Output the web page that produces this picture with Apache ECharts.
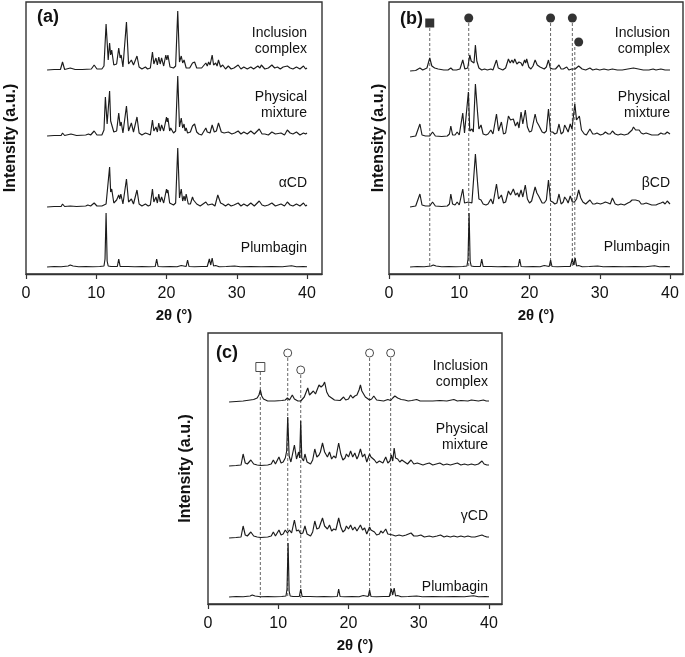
<!DOCTYPE html>
<html><head><meta charset="utf-8">
<script src="https://cdn.jsdelivr.net/npm/echarts@6/dist/echarts.min.js"></script>
<style>html,body{margin:0;padding:0;background:#fff}#c{width:685px;height:657px}</style>
</head><body><div id="c"></div>
<script>
// ---- data: [2θ, intensity] flat pairs, intensity in a.u. above each trace's baseline ----
const xTicks = [0, 10, 20, 30, 40];
const sampleNamesA = ['Inclusion\ncomplex', 'Physical\nmixture', 'αCD', 'Plumbagin'];
const sampleNamesB = ['Inclusion\ncomplex', 'Physical\nmixture', 'βCD', 'Plumbagin'];
const sampleNamesC = ['Inclusion\ncomplex', 'Physical\nmixture', 'γCD', 'Plumbagin'];
const panelTags = ['(a)', '(b)', '(c)'];

const plumbagin = [3,0, 4,0.5, 5,0.3, 6.0,1, 6.3,2, 6.7,1, 7.5,0.3, 8.5,0.5, 9.5,0.3, 10.5,0.5, 11.1,1, 11.25,8, 11.4,54, 11.55,6, 11.7,1, 12.1,0.5, 12.3,2, 12.5,0.5, 13.0,0.5, 13.2,8, 13.4,0.5, 14.5,0.5, 15.5,0.3, 16.5,0.5, 17.5,0.3, 18.4,0.5, 18.6,8, 18.8,0.5, 19.5,0.3, 20.5,0.5, 21.5,0.3, 22.1,1.5, 22.3,0.3, 22.8,0.5, 23.0,7, 23.2,0.5, 24.0,0.3, 25.0,0.5, 25.8,0.5, 26.1,8, 26.3,2, 26.5,9, 26.7,1, 27.0,1.5, 27.5,0.3, 28.5,0.5, 29.7,1, 30.5,0.3, 32,0.5, 33.5,0.3, 35,0.5, 36.5,0.3, 37.8,1.2, 38.5,0.3, 39.5,0.5, 40,0.3];

const complexA = [3,0, 4,0.5, 4.9,0.5, 5.2,8, 5.5,0.5, 6.3,2, 7,0.5, 8,0.5, 9.3,1, 9.7,5, 10.1,1, 10.8,1, 11.1,4, 11.4,46, 11.7,10, 11.9,27, 12.05,15, 12.2,20, 12.5,5, 12.9,6, 13.2,22, 13.4,12, 13.55,15, 13.8,3, 14.05,5, 14.3,48, 14.6,6, 14.8,4, 15.0,10, 15.3,5, 15.8,14, 16.1,3, 16.5,1, 17.0,3, 17.3,1, 17.7,2, 18.0,18, 18.2,6, 18.5,12, 18.7,5, 18.9,13, 19.1,6, 19.3,12, 19.6,4, 19.9,15, 20.05,10, 20.2,15, 20.5,3, 20.7,5, 21.0,2, 21.3,4, 21.6,59, 21.85,8, 22.1,14, 22.3,7, 22.5,10, 22.8,2, 23.0,4, 23.3,2, 23.7,7, 23.85,5, 24.0,8, 24.3,2, 25.0,2, 25.6,7, 25.8,4, 26.0,8, 26.2,5, 26.5,15, 26.7,5, 27.0,7, 27.2,4, 27.4,10, 27.7,3, 28.0,5, 28.4,1, 28.8,4, 29.2,1, 29.6,2, 30.2,5, 30.6,1, 31.0,3, 31.5,1, 32.0,3, 32.4,1, 33.0,4, 33.3,2, 33.5,5, 34.0,1, 34.5,2, 35.0,5, 35.4,2, 35.8,3, 36.2,1, 36.6,3, 37.2,4, 37.6,2, 38.0,1, 38.5,3, 39.0,1, 39.5,4, 39.8,1, 40,2];
const mixtureA = [3,0, 4,0.5, 5.0,0.5, 5.2,3, 5.5,0.5, 6.4,2, 7.2,0.5, 8.5,1, 8.9,2, 9.2,1, 9.7,5, 10.1,1, 10.8,1, 11.1,6, 11.3,39, 11.55,12, 11.9,45, 12.05,15, 12.2,16, 12.5,4, 12.9,5, 13.2,23, 13.4,10, 13.55,14, 13.8,3, 14.05,5, 14.3,30, 14.6,5, 14.8,4, 15.0,13, 15.3,4, 15.8,19, 16.1,3, 16.5,1, 17.0,3, 17.2,1, 17.4,2, 17.7,1, 18.0,16, 18.2,5, 18.5,9, 18.7,4, 18.9,13, 19.1,5, 19.3,11, 19.6,5, 20.0,19, 20.1,14, 20.2,18, 20.45,5, 20.6,8, 21.0,3, 21.3,5, 21.6,60, 21.85,9, 22.1,18, 22.3,8, 22.5,12, 22.65,5, 22.8,8, 23.0,3, 23.4,4, 23.7,10, 23.85,8, 24.0,12, 24.3,4, 24.6,2, 25.0,1, 25.6,8, 25.8,4, 26.0,6, 26.2,3, 26.5,11, 26.8,4, 27.1,5, 27.4,13, 27.8,4, 28.2,3, 28.8,4, 29.3,2, 29.7,3, 30.2,5, 30.6,2, 31.0,4, 31.5,2, 32.0,5, 32.5,2, 33.2,7, 33.6,2, 34.0,2, 34.5,1, 35.0,4, 35.5,2, 36.3,3, 36.8,1, 37.2,6, 37.6,3, 38.0,2, 38.5,4, 39.0,1, 39.5,3, 39.8,2, 40,3];
const alphaCD = [3,0, 4,0.5, 5.0,0.5, 5.2,3, 5.5,0.5, 6.3,1, 7.2,0.5, 8.5,1, 8.8,2, 9.2,1, 9.7,4, 10.1,1, 10.8,1, 11.4,3, 11.6,4, 11.9,40, 12.05,15, 12.2,18, 12.5,4, 12.9,7, 13.05,5, 13.2,12, 13.35,8, 13.5,13, 13.8,3, 14.05,5, 14.3,28, 14.6,5, 14.8,4, 15.0,8, 15.3,3, 15.8,17, 16.1,3, 16.5,1, 17.0,3, 17.4,1, 17.7,2, 18.0,18, 18.2,5, 18.5,10, 18.7,4, 18.9,13, 19.1,5, 19.3,10, 19.6,4, 20.0,18, 20.1,14, 20.2,17, 20.45,4, 20.7,6, 21.0,2, 21.3,4, 21.6,59, 21.85,9, 22.1,18, 22.3,6, 22.5,11, 22.65,6, 22.8,13, 23.1,3, 23.4,3, 23.7,10, 23.85,7, 24.0,8, 24.3,3, 24.8,1, 25.6,5, 25.9,2, 26.5,3, 26.9,1, 27.3,12, 27.7,4, 28.0,3, 28.4,1, 28.8,3, 29.2,1, 29.6,2, 30.2,4, 30.6,1, 31.0,3, 31.5,1, 32.0,4, 32.5,1, 33.2,6, 33.6,2, 34.0,1, 34.5,2, 35.0,4, 35.5,1, 36.3,3, 36.8,1, 37.2,5, 37.6,2, 38.0,1, 38.5,3, 39.0,1, 39.5,4, 39.8,1, 40,2];

const complexB = [3,0, 3.8,0.5, 4.4,3, 4.8,1, 5.4,3, 5.8,13, 6.1,5, 6.5,3, 7.0,2, 7.8,1, 8.4,1, 8.8,3, 9.1,1, 9.6,1, 10.1,2, 10.5,11, 10.8,2, 11.2,3, 11.5,16, 11.7,10, 11.9,12, 12.1,8, 12.3,26, 12.5,10, 12.8,3, 13.2,1, 13.6,2, 14.0,1, 14.5,2, 14.8,1, 15.3,11, 15.55,3, 15.8,5, 16.2,1, 16.6,3, 17.0,12, 17.25,8, 17.5,11, 17.7,8, 17.9,12, 18.2,7, 18.5,9, 18.8,8, 19.0,5, 19.3,11, 19.45,8, 19.6,12, 19.9,4, 20.2,2, 20.5,5, 20.8,11, 21.1,6, 21.5,4, 22.1,2, 22.4,4, 22.7,11, 22.95,3, 23.3,2, 23.7,2, 24.2,6, 24.5,2, 24.8,2, 25.3,4, 25.6,1, 26.0,2, 26.5,2, 27.0,5, 27.5,2, 28.0,1, 28.6,3, 29.0,1, 29.5,2, 30.0,1, 30.6,2, 31.2,1, 31.8,2, 32.5,1, 33.2,1, 34.0,2, 34.8,3, 35.5,2, 36.2,1, 37.0,1, 37.6,2, 38.0,1, 38.7,2, 39.3,1, 40,1];
const mixtureB = [3,0, 3.8,1, 4.4,13, 4.7,2, 5.2,1, 5.8,1, 6.2,5, 6.6,1, 7.5,0.5, 8.3,1, 8.6,3, 8.8,11, 9.05,2, 9.4,2, 9.7,5, 10.0,2, 10.25,4, 10.5,24, 10.75,4, 11.0,3, 11.3,45, 11.5,6, 11.8,8, 12.0,5, 12.3,53, 12.6,25, 12.8,8, 13.1,12, 13.4,3, 13.8,2, 14.1,3, 14.5,7, 14.8,3, 15.3,23, 15.6,6, 16.0,15, 16.3,3, 16.6,4, 17.0,21, 17.3,17, 17.7,18, 18.0,11, 18.3,15, 18.5,9, 18.8,25, 19.05,13, 19.4,27, 19.7,10, 20.0,5, 20.3,6, 20.8,23, 21.05,15, 21.3,12, 21.5,12, 21.8,5, 22.1,4, 22.4,6, 22.7,28, 23.0,5, 23.3,5, 23.6,3, 23.9,4, 24.2,13, 24.5,3, 24.8,5, 25.0,12, 25.3,8, 25.5,5, 25.8,13, 26.05,8, 26.2,6, 26.45,33, 26.7,17, 26.9,16, 27.1,21, 27.4,7, 27.8,3, 28.1,2, 28.6,8, 29.0,3, 29.3,3, 29.6,4, 30.1,2, 30.5,3, 30.8,5, 31.2,3, 31.5,3, 31.8,6, 32.2,3, 32.6,2, 33.0,3, 33.5,2, 34.0,3, 34.3,5, 34.6,7, 34.8,10, 35.1,7, 35.3,6, 35.6,7, 35.9,4, 36.2,3, 36.6,4, 37.0,3, 37.4,2, 37.6,4, 38.0,2, 38.3,2, 38.7,4, 39.0,3, 39.3,3, 39.6,5, 39.8,4, 40,3];
const betaCD = [3,0, 3.8,1, 4.4,13, 4.7,2, 5.2,1, 5.8,1, 6.2,5, 6.6,1, 7.5,0.5, 8.3,1, 8.6,3, 8.8,13, 9.05,3, 9.4,2, 9.7,5, 10.0,2, 10.25,4, 10.5,18, 10.75,4, 11.0,3, 11.3,5, 11.5,3, 11.8,4, 12.0,6, 12.3,53, 12.6,25, 12.8,8, 13.1,7, 13.4,3, 13.8,2, 14.1,3, 14.5,8, 14.8,3, 15.3,23, 15.6,8, 16.0,12, 16.3,4, 16.6,5, 17.0,16, 17.3,12, 17.7,18, 18.0,12, 18.3,14, 18.5,10, 18.8,17, 19.05,10, 19.4,22, 19.7,8, 20.0,4, 20.3,6, 20.8,20, 21.05,14, 21.3,11, 21.5,10, 21.8,4, 22.1,4, 22.4,7, 22.7,27, 23.0,6, 23.3,5, 23.6,3, 23.9,4, 24.2,13, 24.5,3, 24.8,5, 25.0,10, 25.3,7, 25.5,4, 25.8,11, 26.1,5, 26.4,5, 26.7,8, 27.0,17, 27.3,9, 27.6,5, 28.0,3, 28.6,7, 29.0,3, 29.3,3, 29.6,4, 30.1,3, 30.5,4, 30.8,5, 31.2,4, 31.5,3, 31.8,9, 32.2,3, 32.6,2, 33.0,3, 33.5,2, 34.0,4, 34.3,5, 34.6,7, 34.8,9, 35.1,7, 35.3,5, 35.6,6, 35.9,3, 36.2,3, 36.6,4, 37.0,3, 37.4,2, 37.6,4, 38.0,2, 38.3,3, 38.7,4, 39.0,5, 39.3,3, 39.6,6, 39.8,4, 40,3];

const complexC = [3,0, 4,0.5, 5.0,1, 6.0,2, 6.5,2.5, 7.0,4, 7.25,7, 7.45,12, 7.65,6, 7.9,3, 8.5,1, 9.5,1, 10.5,1.5, 11.0,2, 11.3,4, 11.6,2, 12.0,7, 12.3,3, 12.8,1, 13.2,1, 13.7,5, 14.2,14, 14.45,7, 14.7,7, 15.0,11, 15.3,8, 15.5,10, 15.8,17, 16.1,15, 16.4,17, 16.6,20, 16.9,10, 17.2,6, 17.6,4, 18.0,2, 18.8,1.5, 19.3,5, 19.6,2, 20.0,3, 20.3,7, 20.6,4, 20.9,6, 21.2,7, 21.5,12, 21.7,17, 21.9,11, 22.1,12, 22.4,5, 23.0,2, 23.3,3, 23.6,6, 24.0,2, 24.5,1.5, 25.0,1, 25.6,2.5, 26.0,1.5, 26.3,4, 26.6,6, 27.0,4, 27.5,2.5, 28.0,2, 28.5,1, 29.0,1.5, 29.7,2.5, 30.2,1, 31.0,1, 32.0,1, 33.0,1.5, 34.0,1, 35.0,2.5, 35.5,1, 36.0,1.5, 37.0,1, 37.5,2, 38.5,1, 39.2,2, 39.6,1, 40,1];
const mixtureC = [3,0, 4,0.5, 4.7,1, 5.0,12, 5.3,3, 5.6,2, 6.1,6, 6.5,2, 7.0,1, 7.5,0.5, 8.5,1, 9.0,2, 9.3,6, 9.6,2, 10.1,9, 10.4,3, 10.7,4, 11.0,8, 11.2,15, 11.35,49, 11.55,10, 11.8,4, 12.0,6, 12.3,21, 12.6,7, 12.9,14, 13.05,8, 13.2,45, 13.35,8, 13.6,5, 13.8,12, 14.1,4, 14.6,2, 14.9,6, 15.2,17, 15.5,9, 15.8,11, 16.0,14, 16.3,23, 16.6,14, 17.0,9, 17.3,14, 17.6,7, 17.9,10, 18.2,8, 18.6,23, 18.9,12, 19.2,6, 19.5,8, 19.7,12, 20.0,9, 20.3,15, 20.6,9, 20.9,13, 21.2,7, 21.4,10, 21.7,17, 22.0,9, 22.3,12, 22.6,4, 23.0,12, 23.2,9, 23.4,11, 23.7,6, 24.0,3, 24.4,5, 24.6,6, 24.9,3, 25.3,9, 25.6,3, 25.9,5, 26.1,11, 26.3,5, 26.5,18, 26.7,8, 27.0,7, 27.3,4, 27.6,6, 28.0,4, 28.4,2, 28.9,6, 29.3,2, 29.8,3, 30.2,2, 30.6,1, 31.0,2, 31.5,3, 32.0,1, 32.5,2, 33.0,3, 33.5,1, 34.0,2, 34.5,1, 35.0,2, 35.5,3, 36.0,1, 36.5,2, 37.0,1, 37.5,2, 38.0,1, 38.5,2, 39.0,5, 39.3,2, 39.7,1, 40,1];
const gammaCD = [3,0, 4,0.5, 4.7,1, 5.0,12, 5.3,3, 5.6,2, 6.1,6, 6.5,2, 7.0,1, 7.5,0.5, 8.5,1, 9.0,2, 9.3,6, 9.6,2, 10.1,8, 10.4,3, 10.7,4, 11.0,8, 11.3,5, 11.6,8, 11.9,5, 12.3,18, 12.6,7, 12.9,8, 13.2,4, 13.5,5, 13.8,12, 14.1,4, 14.6,2, 14.9,6, 15.2,17, 15.5,9, 15.8,10, 16.0,12, 16.3,20, 16.6,12, 17.0,9, 17.3,13, 17.6,7, 17.9,9, 18.2,8, 18.6,20, 18.9,11, 19.2,6, 19.5,8, 19.7,12, 20.0,9, 20.3,13, 20.6,8, 20.9,11, 21.2,7, 21.4,9, 21.7,13, 22.0,8, 22.3,10, 22.6,4, 23.0,11, 23.2,8, 23.4,10, 23.7,6, 24.0,3, 24.4,4, 24.6,7, 24.9,5, 25.3,9, 25.6,4, 25.8,2, 26.3,3, 26.7,2, 27.2,3, 27.7,2, 28.2,3, 28.9,5, 29.3,2, 29.8,2, 30.3,3, 30.8,1, 31.5,2, 32.0,1, 32.6,2, 33.1,3, 33.6,1, 34.0,2, 34.5,1, 35.0,2, 35.5,1, 36.0,2, 36.5,1, 37.0,2, 37.5,1, 38.0,1, 38.5,2, 39.0,3, 39.3,2, 39.7,1, 40,1];

// reflection markers (2θ positions)
const markB_square = [5.8];
const markB_circle = [11.35, 23.0, 26.1];
const markB_circleLow = [27.0];
const lineB_low = [26.45];
const markC_square = [7.45];
const markC_circle = [11.35, 23.0, 26.0];
const markC_circleLow = [13.2];

// ---- layout ----
const FONT = '"Liberation Sans", Arial, sans-serif';
const INK = '#111';
const panels = [
  {left: 26,  top: 2,   width: 296, height: 272, max: 296/7.025, names: sampleNamesA, traces: [complexA, mixtureA, alphaCD, plumbagin], base: [204,138,67,7], nameGap: 7, labelX: 307, labelY: [41,105,183,248], tag: [37, 17]},
  {left: 389, top: 2,   width: 294, height: 272, max: 294/7.025, names: sampleNamesB, traces: [complexB, mixtureB, betaCD, plumbagin], base: [203,137,67,7], nameGap: 2, labelX: 670, labelY: [41,105,183,247], tag: [400, 19]},
  {left: 208, top: 333, width: 294, height: 271, max: 294/7.025, names: sampleNamesC, traces: [complexC, mixtureC, gammaCD, plumbagin], base: [202,138,66,7], nameGap: 14, labelX: 488, labelY: [374,437,516,587], tag: [216, 353]}
];
const pairs = (flat, off) => { const out = []; for (let i = 0; i < flat.length; i += 2) out.push([flat[i], flat[i+1] + off]); return out; };

const grid = [], xAxis = [], yAxis = [], series = [], graphic = [];
panels.forEach((p, i) => {
  grid.push({left: p.left, top: p.top, width: p.width, height: p.height, show: true, borderColor: '#333', borderWidth: 1.4, containLabel: false});
  xAxis.push({type: 'value', gridIndex: i, min: 0, max: p.max, interval: 10,
    axisLine: {show: true, onZero: false, lineStyle: {color: '#333', width: 1.4}},
    axisTick: {show: true, inside: false, length: 5, customValues: xTicks, lineStyle: {color: '#333', width: 1.2}},
    axisLabel: {customValues: xTicks, margin: 12, fontSize: 16, color: INK, fontFamily: FONT},
    splitLine: {show: false},
    name: '2θ (°)', nameLocation: 'middle', nameGap: 34,
    nameTextStyle: {fontSize: 15, fontWeight: 'bold', color: INK, fontFamily: FONT}});
  yAxis.push({type: 'value', gridIndex: i, min: 0, max: p.height,
    axisLine: {show: false}, axisTick: {show: false}, axisLabel: {show: false}, splitLine: {show: false},
    name: 'Intensity (a.u.)', nameLocation: 'middle', nameGap: p.nameGap, nameRotate: 90,
    nameTextStyle: {fontSize: 16, fontWeight: 'bold', color: INK, fontFamily: FONT}});
  p.traces.forEach((t, k) => {
    series.push({type: 'line', xAxisIndex: i, yAxisIndex: i, data: pairs(t, p.base[k]), showSymbol: false, symbol: 'none',
      lineStyle: {color: '#1c1c1c', width: 1.15}, silent: true, z: 3});
  });
  p.names.forEach((n, k) => {
    graphic.push({type: 'text', x: p.labelX, y: p.labelY[k], style: {text: n, align: 'right', verticalAlign: 'middle', fill: INK, font: '14px ' + FONT, lineHeight: 16}});
  });
  graphic.push({type: 'text', x: p.tag[0], y: p.tag[1], style: {text: panelTags[i], align: 'left', verticalAlign: 'middle', fill: INK, font: 'bold 18px ' + FONT}});
});

function dashLine(gi, x, y0, y1) {
  series.push({type: 'line', xAxisIndex: gi, yAxisIndex: gi, data: [[x, y0], [x, y1]], symbol: 'none', silent: true, z: 2,
    lineStyle: {color: '#666', width: 1, type: [3, 2]}});
}
function marks(gi, xs, y, symbol, filled, size) {
  series.push({type: 'scatter', xAxisIndex: gi, yAxisIndex: gi, data: xs.map(x => [x, y]), symbol: symbol, symbolSize: size, silent: true, z: 4,
    itemStyle: filled ? {color: '#000'} : {color: '#fff', borderColor: '#222', borderWidth: 1}});
}
// panel b
markB_square.forEach(x => dashLine(1, x, 246, 7));
markB_circle.forEach(x => dashLine(1, x, 251, 7));
lineB_low.forEach(x => dashLine(1, x, 227, 7));
marks(1, markB_square, 251, 'rect', true, 9);
marks(1, markB_circle, 256, 'circle', true, 9);
marks(1, markB_circleLow, 232, 'circle', true, 9);
// panel c
markC_square.forEach(x => dashLine(2, x, 232, 6));
markC_circle.forEach(x => dashLine(2, x, 246, 6));
markC_circleLow.forEach(x => dashLine(2, x, 229, 6));
marks(2, markC_square, 237, 'rect', false, 9);
marks(2, markC_circle, 251, 'circle', false, 8);
marks(2, markC_circleLow, 234, 'circle', false, 8);

const chart = echarts.init(document.getElementById('c'), null, {renderer: 'canvas'});
chart.setOption({animation: false, backgroundColor: '#fff', grid, xAxis, yAxis, series, graphic});
</script></body></html>
